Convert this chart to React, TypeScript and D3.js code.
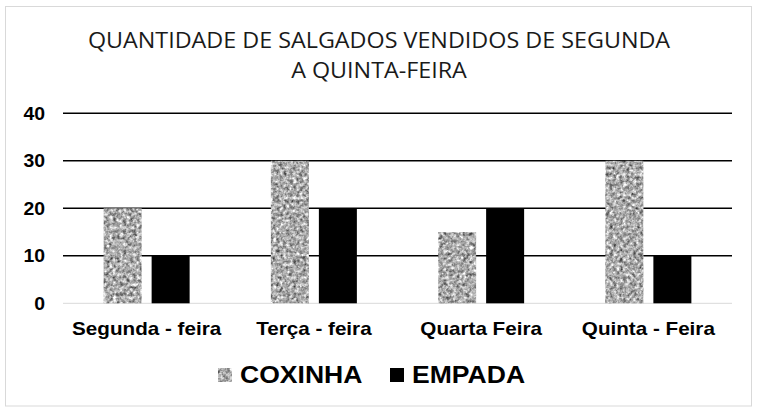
import * as d3 from "d3";

const days = ["Segunda - feira", "Terça - feira", "Quarta Feira", "Quinta - Feira"];
const coxinha = [20, 30, 15, 30];
const empada = [10, 20, 20, 10];
const yTicks = [0, 10, 20, 30, 40];
const titleLines = ["QUANTIDADE DE SALGADOS VENDIDOS DE SEGUNDA", "A QUINTA-FEIRA"];

const W = 760;
const H = 410;
const left = 63;
const right = 732;
const top = 113.3;
const bottom = 303.3;
const barW = 38;
const gap = 10;
const stretch = 1.13;
const boldFont = "'Liberation Sans', Arial, sans-serif";

export default function App() {
  const x = d3.scaleBand<string>().domain(days).range([left, right]);
  const y = d3.scaleLinear().domain([0, 40]).range([bottom, top]);

  return (
    <svg
      width={W}
      height={H}
      viewBox={`0 0 ${W} ${H}`}
      style={{ position: "fixed", left: 0, top: 0, background: "#fff" }}
    >
      <defs>
        {/* grey mottled fill used for the COXINHA bars */}
        <filter id="noise" x="0" y="0" width="100%" height="100%" colorInterpolationFilters="sRGB">
          <feTurbulence type="fractalNoise" baseFrequency="0.3" numOctaves="3" seed="7" result="t" />
          <feColorMatrix in="t" type="matrix"
            values="0.33 0.33 0.33 0 0  0.33 0.33 0.33 0 0  0.33 0.33 0.33 0 0  0 0 0 0 1" result="g" />
          <feComponentTransfer in="g" result="c">
            <feFuncR type="linear" slope="1.9" intercept="-0.27" />
            <feFuncG type="linear" slope="1.9" intercept="-0.27" />
            <feFuncB type="linear" slope="1.9" intercept="-0.27" />
          </feComponentTransfer>
          <feComposite in="c" in2="SourceGraphic" operator="in" />
        </filter>
      </defs>

      <rect x={5.5} y={6.5} width={746} height={399.5} fill="#fff" stroke="#d9d9d9" />

      {titleLines.map((t, i) => (
        <text
          key={t}
          transform={`translate(379,${48 + i * 30}) scale(1.085,1)`}
          textAnchor="middle"
          fontFamily="'Open Sans', sans-serif"
          fontSize={21.5}
          fill="#1a1a1a"
        >
          {t}
        </text>
      ))}

      {yTicks.map((v) => (
        <g key={v}>
          <line
            x1={left}
            x2={right}
            y1={y(v)}
            y2={y(v)}
            stroke={v === 0 ? "#d9d9d9" : "#000"}
            strokeWidth={v === 0 ? 1 : 1.5}
          />
          <text
            transform={`translate(45,${y(v) + 6.5}) scale(1.05,1)`}
            textAnchor="end"
            fontFamily={boldFont}
            fontWeight="bold"
            fontSize={18.5}
          >
            {v}
          </text>
        </g>
      ))}

      {days.map((d, i) => {
        const c = (x(d) ?? 0) + x.bandwidth() / 2;
        return (
          <g key={d}>
            <rect
              x={c - gap / 2 - barW}
              y={y(coxinha[i])}
              width={barW}
              height={bottom - y(coxinha[i])}
              fill="#999"
              filter="url(#noise)"
            />
            <rect
              x={c + gap / 2}
              y={y(empada[i])}
              width={barW}
              height={bottom - y(empada[i])}
              fill="#000"
            />
            <text
              transform={`translate(${c},335) scale(${stretch + 0.05},1)`}
              textAnchor="middle"
              fontFamily={boldFont}
              fontWeight="bold"
              fontSize={17.5}
            >
              {d}
            </text>
          </g>
        );
      })}

      {/* legend */}
      <rect x={218} y={368} width={14} height={14} fill="#999" filter="url(#noise)" />
      <text
        transform={`translate(240,383) scale(${stretch},1)`}
        fontFamily={boldFont}
        fontWeight="bold"
        fontSize={23.5}
      >
        COXINHA
      </text>
      <rect x={390} y={368} width={14} height={14} fill="#000" />
      <text
        transform={`translate(412,383) scale(${stretch},1)`}
        fontFamily={boldFont}
        fontWeight="bold"
        fontSize={23.5}
      >
        EMPADA
      </text>
    </svg>
  );
}
